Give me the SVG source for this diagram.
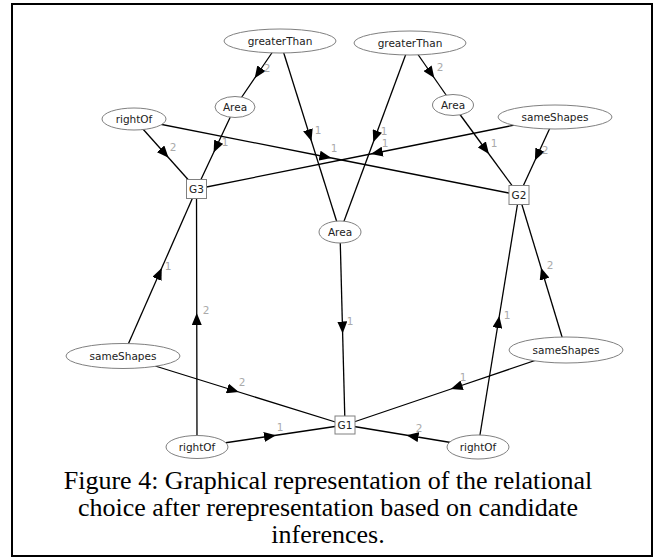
<svg xmlns="http://www.w3.org/2000/svg" width="654" height="558" viewBox="0 0 654 558">
<style>
.e{stroke:#000;stroke-width:1.3;fill:none;marker-mid:url(#arr)}
.n ellipse,.n rect{fill:#fff;stroke:#808080;stroke-width:1}
.n text{font-family:"DejaVu Sans",sans-serif;font-size:10.5px;fill:#222;text-anchor:middle}
.l{font-family:"DejaVu Sans",sans-serif;font-size:10.5px;fill:#aaa;text-anchor:middle}
.cap{font-family:"Liberation Serif",serif;font-size:26px;fill:#000;text-anchor:middle}
</style>
<defs>
<marker id="arr" viewBox="0 0 12 10" refX="7" refY="5" markerWidth="12" markerHeight="10" markerUnits="userSpaceOnUse" orient="auto">
<path d="M0,0 L12,5 L0,10 z" fill="#000"/>
</marker>
</defs>
<rect x="12" y="4" width="640" height="552" fill="#fff" stroke="#000" stroke-width="2"/>
<g id="connectors">
<polyline class="e" points="280,41 257.5,74 235,107"/>
<polyline class="e" points="280,41 310,136.5 340,232"/>
<polyline class="e" points="134,119 165.25,154 196.5,189"/>
<polyline class="e" points="235,107 215.75,148 196.5,189"/>
<polyline class="e" points="134,119 326.5,157 519,195"/>
<polyline class="e" points="555,117 375.75,153 196.5,189"/>
<polyline class="e" points="410,43 375,137.5 340,232"/>
<polyline class="e" points="410,43 431.5,74 453,105"/>
<polyline class="e" points="453,105 486,150 519,195"/>
<polyline class="e" points="555,117 537,156 519,195"/>
<polyline class="e" points="123,356 159.75,272.5 196.5,189"/>
<polyline class="e" points="197,447 196.75,318 196.5,189"/>
<polyline class="e" points="340,232 342.5,328.5 345,425"/>
<polyline class="e" points="478,447 498.5,321 519,195"/>
<polyline class="e" points="566,350 542.5,272.5 519,195"/>
<polyline class="e" points="123,356 234,390.5 345,425"/>
<polyline class="e" points="566,350 455.5,387.5 345,425"/>
<polyline class="e" points="197,447 271,436 345,425"/>
<polyline class="e" points="478,447 411.5,436 345,425"/>
<text class="l" x="267" y="72">2</text>
<text class="l" x="318" y="134">1</text>
<text class="l" x="173" y="151">2</text>
<text class="l" x="225" y="146">1</text>
<text class="l" x="334" y="152">1</text>
<text class="l" x="385" y="147">1</text>
<text class="l" x="384" y="135">1</text>
<text class="l" x="440" y="71">2</text>
<text class="l" x="494" y="147">1</text>
<text class="l" x="545" y="154">2</text>
<text class="l" x="168" y="270">1</text>
<text class="l" x="206" y="314">2</text>
<text class="l" x="350" y="325">1</text>
<text class="l" x="507" y="319">1</text>
<text class="l" x="550" y="269">2</text>
<text class="l" x="242" y="386">2</text>
<text class="l" x="463" y="381">1</text>
<text class="l" x="280" y="431">1</text>
<text class="l" x="419" y="432">2</text>
</g>
<g id="gtL" class="n"><ellipse cx="280" cy="41" rx="56" ry="12"/><text x="280" y="45">greaterThan</text></g>
<g id="gtR" class="n"><ellipse cx="410" cy="43" rx="56" ry="12"/><text x="410" y="47">greaterThan</text></g>
<g id="areaL" class="n"><ellipse cx="235" cy="107" rx="20" ry="10.5"/><text x="235" y="111">Area</text></g>
<g id="areaR" class="n"><ellipse cx="453" cy="105" rx="20.5" ry="10.5"/><text x="453" y="109">Area</text></g>
<g id="rightOfT" class="n"><ellipse cx="134" cy="119" rx="32" ry="11"/><text x="134" y="123">rightOf</text></g>
<g id="sameT" class="n"><ellipse cx="555" cy="117" rx="57" ry="12"/><text x="555" y="121">sameShapes</text></g>
<g id="G3" class="n"><rect x="186.5" y="179.5" width="20" height="19"/><text x="196.5" y="193">G3</text></g>
<g id="G2" class="n"><rect x="509" y="185.5" width="20" height="19"/><text x="519" y="199">G2</text></g>
<g id="areaC" class="n"><ellipse cx="340" cy="232" rx="21" ry="11"/><text x="340" y="236">Area</text></g>
<g id="sameL" class="n"><ellipse cx="123" cy="356" rx="57" ry="12.5"/><text x="123" y="360">sameShapes</text></g>
<g id="sameR" class="n"><ellipse cx="566" cy="350" rx="57" ry="13"/><text x="566" y="354">sameShapes</text></g>
<g id="rightOfL" class="n"><ellipse cx="197" cy="447" rx="31" ry="11.5"/><text x="197" y="451">rightOf</text></g>
<g id="rightOfR" class="n"><ellipse cx="478" cy="447" rx="31" ry="12"/><text x="478" y="451">rightOf</text></g>
<g id="G1" class="n"><rect x="335" y="416" width="20" height="18"/><text x="345" y="429">G1</text></g>
<g id="caption">
<text class="cap" x="328" y="489">Figure 4: Graphical representation of the relational</text>
<text class="cap" x="328" y="516">choice after rerepresentation based on candidate</text>
<text class="cap" x="328" y="543">inferences.</text>
</g>
</svg>
